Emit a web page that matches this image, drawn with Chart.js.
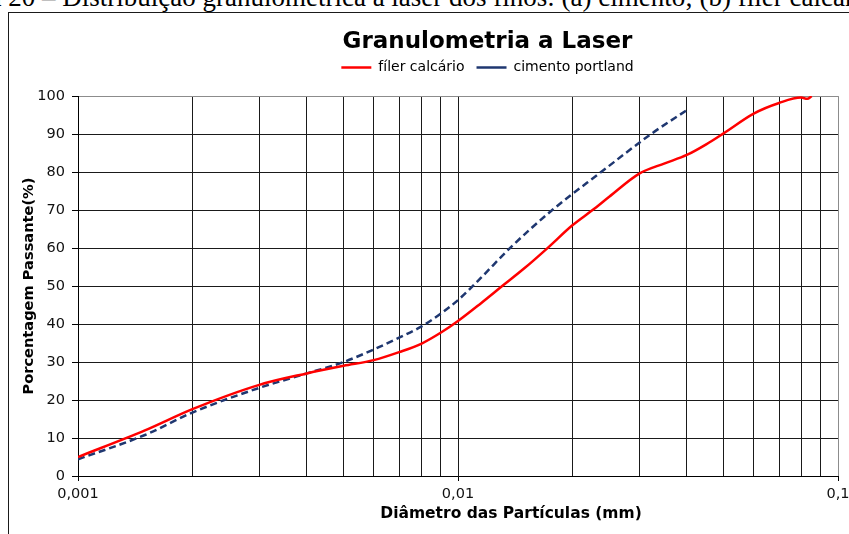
<!DOCTYPE html>
<html>
<head>
<meta charset="utf-8">
<script src="https://cdn.jsdelivr.net/npm/chart.js@4"></script>
<style>
  html, body { margin: 0; padding: 0; background: #fff; overflow: hidden; width: 849px; height: 534px; }
  #cap { position: absolute; left: -69px; top: -16px; font: 27px "Liberation Serif", serif; line-height: 27px; white-space: nowrap; color: #000; }
  #frame { position: absolute; left: 8px; top: 12px; width: 1000px; height: 600px; border: 1px solid #1a1a1a; }
  #c { position: absolute; left: 0; top: 0; }
</style>
</head>
<body>
<div id="cap">Figura 20 – Distribuição granulométrica a laser dos finos: (a) cimento; (b) fíler calcário</div>
<div id="frame"></div>
<canvas id="c" width="975" height="534"></canvas>
<script>
// ---- data ----
const chartTitle = "Granulometria a Laser";
const seriesNames = ["fíler calcário", "cimento portland"];
const xAxisTitle = "Diâmetro das Partículas (mm)";
const yAxisTitle = "Porcentagem Passante(%)";

const filerDiam = [0.001, 0.0015, 0.002, 0.003, 0.004, 0.005, 0.006, 0.007, 0.008, 0.009, 0.01, 0.0115, 0.013, 0.015, 0.0172, 0.02, 0.0226, 0.025, 0.03, 0.035, 0.04, 0.045, 0.05, 0.06, 0.07, 0.08, 0.083, 0.0853];
const filerPass = [5.0, 12.0, 17.6, 24.0, 27.0, 29.0, 30.5, 32.6, 34.8, 37.7, 40.8, 45.5, 49.8, 54.8, 60.0, 66.0, 70.0, 73.5, 79.6, 82.3, 84.5, 87.3, 90.2, 95.4, 98.2, 99.6, 99.3, 100.0];

const cimDiam = [0.001, 0.0015, 0.002, 0.003, 0.004, 0.005, 0.006, 0.007, 0.008, 0.009, 0.01, 0.0115, 0.0137, 0.0177, 0.0238, 0.0322, 0.04];
const cimPass = [4.4, 10.8, 16.7, 23.2, 27.0, 30.0, 33.3, 36.4, 39.3, 42.7, 46.3, 52.2, 60.0, 70.0, 80.0, 90.0, 96.3];

const xTickValues = [0.001, 0.002, 0.003, 0.004, 0.005, 0.006, 0.007, 0.008, 0.009,
                     0.01, 0.02, 0.03, 0.04, 0.05, 0.06, 0.07, 0.08, 0.09, 0.1];
const xLabelValues = [0.001, 0.01, 0.1];
const yMin = 0, yMax = 100, yStep = 10;

// ---- helpers ----
const toPoints = (xs, ys) => xs.map((x, i) => ({ x: x, y: ys[i] }));
const fmtComma = v => String(v).replace('.', ',');
const FONT = '"DejaVu Sans", sans-serif';

const xTitlePlugin = {
  id: 'xTitleOffset',
  afterDraw(chart) {
    const ctx = chart.ctx;
    const a = chart.chartArea;
    ctx.save();
    ctx.font = 'bold 15.5px ' + FONT;
    ctx.fillStyle = '#000';
    ctx.textAlign = 'center';
    ctx.textBaseline = 'middle';
    ctx.fillText(xAxisTitle, (a.left + a.right) / 2 + 53, a.bottom + 38);
    ctx.restore();
  }
};

new Chart(document.getElementById('c'), {
  type: 'line',
  data: {
    datasets: [
      {
        label: seriesNames[0],
        data: toPoints(filerDiam, filerPass),
        borderColor: '#ff0000',
        backgroundColor: '#ff0000',
        borderWidth: 2.5,
        pointRadius: 0,
        cubicInterpolationMode: 'monotone',
        fill: false
      },
      {
        label: seriesNames[1],
        data: toPoints(cimDiam, cimPass),
        borderColor: '#1f3770',
        backgroundColor: '#1f3770',
        borderWidth: 2.5,
        borderDash: [7, 4],
        pointRadius: 0,
        cubicInterpolationMode: 'monotone',
        fill: false
      }
    ]
  },
  options: {
    responsive: false,
    animation: false,
    devicePixelRatio: 1,
    layout: { padding: 0 },
    plugins: {
      title: {
        display: true,
        text: chartTitle,
        color: '#000',
        font: { family: FONT, size: 23, weight: 'bold', lineHeight: 1.2 },
        padding: { top: 28, bottom: -7 }
      },
      legend: {
        display: true,
        position: 'top',
        labels: {
          color: '#000',
          font: { family: FONT, size: 14 },
          usePointStyle: true,
          pointStyle: 'line',
          pointStyleWidth: 30,
          padding: 12
        }
      },
      tooltip: { enabled: false }
    },
    scales: {
      x: {
        type: 'logarithmic',
        position: 'bottom',
        min: xTickValues[0],
        max: xTickValues[xTickValues.length - 1],
        afterBuildTicks: s => {
          s.ticks = xTickValues.map(v => ({ value: v }));
        },
        afterFit: s => { s.height = 58; },
        ticks: {
          autoSkip: false,
          maxRotation: 0,
          color: '#111',
          padding: 5,
          font: { family: FONT, size: 14.5 },
          callback: v => (xLabelValues.includes(v) ? fmtComma(v) : '')
        },
        grid: {
          color: c => (c.tick && c.tick.value === xTickValues[xTickValues.length - 1] ? '#8c8c8c' : '#1a1a1a'),
          lineWidth: 1,
          tickLength: 5,
          tickColor: c => (c.tick && xLabelValues.includes(c.tick.value) ? '#000' : 'rgba(0,0,0,0)')
        },
        border: { display: true, color: '#000', width: 1 }
      },
      xTop: {
        type: 'linear',
        position: 'top',
        display: true,
        afterFit: s => { s.height = 11.5; },
        ticks: { display: false },
        grid: { display: false },
        border: { display: false }
      },
      y: {
        type: 'linear',
        position: 'left',
        min: yMin,
        max: yMax,
        afterFit: s => { s.width = 78; },
        ticks: {
          stepSize: yStep,
          color: '#111',
          padding: 7,
          font: { family: FONT, size: 14.5 }
        },
        grid: {
          color: c => (c.tick && c.tick.value === yMax ? '#8c8c8c' : '#1a1a1a'),
          lineWidth: 1,
          tickLength: 6,
          tickColor: '#000'
        },
        border: { display: true, color: '#000', width: 1 },
        title: {
          display: true,
          text: yAxisTitle,
          color: '#000',
          font: { family: FONT, size: 14.6, weight: 'bold' },
          padding: { top: 20, bottom: 0 }
        }
      },
      yRight: {
        type: 'linear',
        position: 'right',
        display: true,
        afterFit: s => { s.width = 137; },
        ticks: { display: false },
        grid: { display: false },
        border: { display: false }
      }
    }
  },
  plugins: [xTitlePlugin]
});
</script>
</body>
</html>
